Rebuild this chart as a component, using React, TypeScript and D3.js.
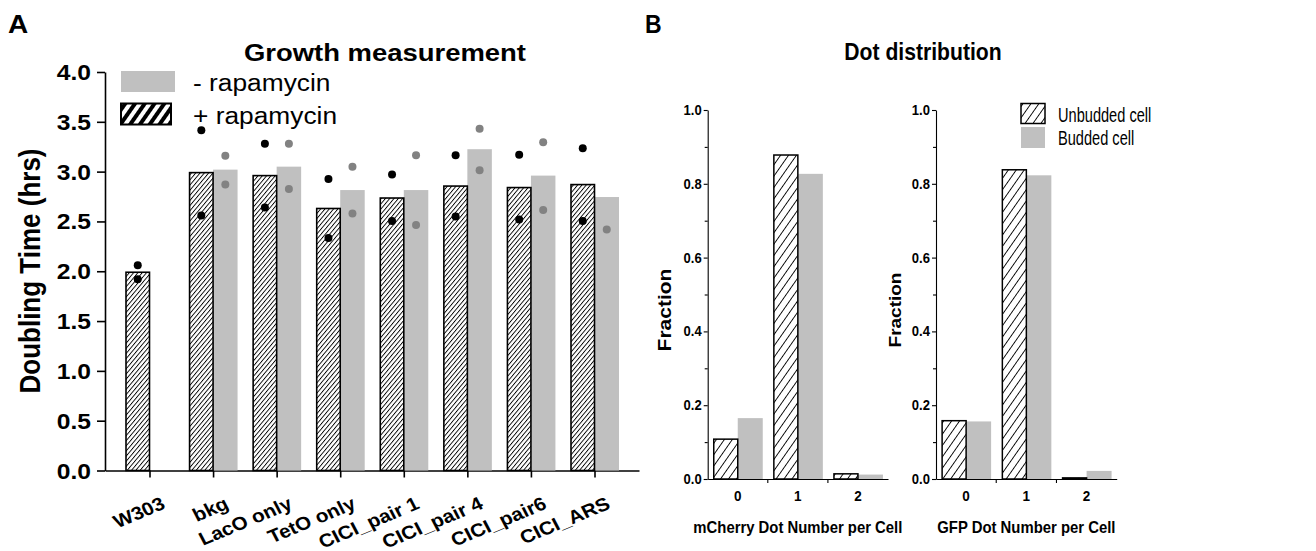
import React, { useEffect, useRef } from "react";
import * as d3 from "d3";

// Panel A: growth measurement
const strains = ["W303", "bkg", "LacO only", "TetO only", "CICI_pair 1", "CICI_pair 4", "CICI_pair6", "CICI_ARS"];
const plusRapa = [1.99, 2.99, 2.96, 2.63, 2.735, 2.855, 2.84, 2.87];
const minusRapa = [null, 3.02, 3.05, 2.815, 2.815, 3.225, 2.96, 2.745];
const plusRapaPoints = [[2.06, 1.92], [3.415, 2.56], [3.28, 2.64], [2.925, 2.335], [2.97, 2.505], [3.165, 2.55], [3.17, 2.52], [3.235, 2.505]];
const minusRapaPoints = [[], [3.16, 2.87], [3.28, 2.825], [3.05, 2.58], [3.165, 2.465], [3.43, 3.015], [3.295, 2.615], [2.42]];
const growthTicks = [0, 0.5, 1, 1.5, 2, 2.5, 3, 3.5, 4];

// Panel B: dot distribution
const dotNumbers = ["0", "1", "2"];
const mCherryUnbudded = [0.108, 0.878, 0.014];
const mCherryBudded = [0.165, 0.827, 0.012];
const gfpUnbudded = [0.158, 0.838, 0.003];
const gfpBudded = [0.156, 0.823, 0.022];
const fractionTicks = [0, 0.2, 0.4, 0.6, 0.8, 1.0];
const fractionMinor = [0.1, 0.3, 0.5, 0.7, 0.9];

const FONT = "'Liberation Sans', Arial, Helvetica, sans-serif";

const App = () => {
  const ref = useRef<SVGSVGElement>(null);

  useEffect(() => {
    document.body.style.margin = "0";
    const svg = d3.select(ref.current);
    svg.selectAll("*").remove();
    const defs = svg.append("defs");

    // diagonal hatch pattern
    const hatch = (id: string, spacing: number, angle: number, lw: number) => {
      const p = defs.append("pattern")
        .attr("id", id)
        .attr("patternUnits", "userSpaceOnUse")
        .attr("width", spacing)
        .attr("height", spacing)
        .attr("patternTransform", `rotate(${angle})`);
      p.append("rect").attr("width", spacing).attr("height", spacing).attr("fill", "#fff");
      p.append("rect").attr("width", lw).attr("height", spacing).attr("fill", "#000");
    };
    hatch("hatchA", 3.3, 40, 0.9);
    hatch("hatchLegA", 8, 35, 4);
    hatch("hatchB", 6.5, 35, 0.9);

    const txt = (g: any, s: string, x: number, y: number, o: any) =>
      g.append("text")
        .attr("transform", `translate(${x},${y}) scale(${o.sx ?? 1},1) rotate(${o.rot ?? 0})`)
        .attr("text-anchor", o.anchor ?? "start")
        .attr("font-size", o.size)
        .attr("font-weight", o.weight ?? "normal")
        .attr("font-family", FONT)
        .attr("fill", "#000")
        .text(s);

    // ---------------- Panel A ----------------
    const gA = svg.append("g");
    const sxA = 1.12;
    const yA = d3.scaleLinear().domain([0, 4]).range([470.5, 72]);
    const xA = d3.scalePoint().domain(strains).range([105, 639]).padding(0.7);
    const barW = 23.5;

    txt(gA, "A", 8, 33, { size: 25, weight: "bold", sx: sxA });
    txt(gA, "Growth measurement", 385, 61, { size: 24.5, weight: "bold", sx: sxA, anchor: "middle" });
    txt(gA, "Doubling Time (hrs)", 40, 271, { size: 26, weight: "bold", sx: sxA, rot: -90, anchor: "middle" });

    const axL = gA.append("g").attr("transform", "translate(105,0)")
      .call(d3.axisLeft(yA).tickValues(growthTicks).tickSize(8).tickSizeOuter(0).tickFormat(() => ""));
    const axB = gA.append("g").attr("transform", `translate(0,${yA(0)})`)
      .call(d3.axisBottom(xA).tickSize(7).tickSizeOuter(0).tickFormat(() => ""));
    [axL, axB].forEach((a) => {
      a.selectAll("path,line").attr("stroke", "#000").attr("stroke-width", 1.6);
    });

    growthTicks.forEach((t) => {
      txt(gA, t.toFixed(1), 91, yA(t) + 8, { size: 22, weight: "bold", sx: sxA, anchor: "end" });
    });

    strains.forEach((s) => {
      txt(gA, s, (xA(s) as number) + 17, 508, { size: 18.5, weight: "bold", sx: sxA, rot: -25, anchor: "end" });
    });

    // bars
    strains.forEach((s, i) => {
      const cx = xA(s) as number;
      const mv = minusRapa[i];
      if (mv != null) {
        gA.append("rect")
          .attr("x", cx).attr("y", yA(mv))
          .attr("width", barW + 1).attr("height", yA(0) - yA(mv))
          .attr("fill", "#c0c0c0");
      }
      gA.append("rect")
        .attr("x", cx - barW).attr("y", yA(plusRapa[i]))
        .attr("width", barW).attr("height", yA(0) - yA(plusRapa[i]))
        .attr("fill", "url(#hatchA)")
        .attr("stroke", "#000").attr("stroke-width", 1.6);
    });

    // replicate dots
    strains.forEach((s, i) => {
      const cx = xA(s) as number;
      plusRapaPoints[i].forEach((v) => {
        gA.append("circle").attr("cx", cx - barW / 2).attr("cy", yA(v)).attr("r", 4).attr("fill", "#000");
      });
      minusRapaPoints[i].forEach((v) => {
        gA.append("circle").attr("cx", cx + barW / 2 + 0.5).attr("cy", yA(v)).attr("r", 4).attr("fill", "#828282");
      });
    });

    // legend A
    gA.append("rect").attr("x", 121).attr("y", 71).attr("width", 54).attr("height", 21).attr("fill", "#c0c0c0");
    gA.append("rect").attr("x", 121).attr("y", 103.5).attr("width", 50).attr("height", 21)
      .attr("fill", "url(#hatchLegA)").attr("stroke", "#000").attr("stroke-width", 2);
    txt(gA, "- rapamycin", 193, 91, { size: 23.5, sx: sxA });
    txt(gA, "+ rapamycin", 193, 123.5, { size: 23.5, sx: sxA });

    // ---------------- Panel B ----------------
    const gB = svg.append("g");
    const sxB = 0.9;
    const yB = d3.scaleLinear().domain([0, 1]).range([479, 110]);

    txt(gB, "B", 645, 33, { size: 25, weight: "bold", sx: 0.92 });
    txt(gB, "Dot distribution", 923, 60, { size: 23.5, weight: "bold", sx: sxB, anchor: "middle" });

    const drawDist = (x0: number, x1: number, unb: number[], bud: number[], title: string, fracX: number, fracSize: number) => {
      const g = gB.append("g");
      const xB = d3.scaleBand().domain(dotNumbers).range([x0, x1]);
      const center = (d: string) => (xB(d) as number) + xB.bandwidth() / 2;

      g.append("g").attr("transform", `translate(${x0},0)`)
        .call(d3.axisLeft(yB).tickValues(fractionTicks).tickSize(4).tickSizeOuter(0).tickFormat(() => ""));
      g.append("g").attr("transform", `translate(${x0},0)`)
        .call(d3.axisLeft(yB).tickValues(fractionMinor).tickSize(3).tickFormat(() => ""))
        .select(".domain").remove();
      const xAx = g.append("g").attr("transform", `translate(0,${yB(0)})`)
        .call(d3.axisBottom(xB).tickValues([]).tickSizeOuter(0));
      dotNumbers.slice(1).forEach((d) => {
        xAx.append("line").attr("x1", xB(d) as number).attr("x2", xB(d) as number).attr("y1", 0).attr("y2", 4);
      });
      g.selectAll("path,line").attr("stroke", "#000").attr("stroke-width", 1.1);

      fractionTicks.forEach((t) => {
        txt(g, t.toFixed(1), x0 - 6, yB(t) + 5, { size: 14.5, weight: "bold", sx: sxB, anchor: "end" });
      });
      dotNumbers.forEach((d) => {
        txt(g, d, center(d), 501, { size: 15, weight: "bold", sx: sxB, anchor: "middle" });
      });
      txt(g, title, (x0 + x1) / 2, 533, { size: 16, weight: "bold", sx: 0.93, anchor: "middle" });
      txt(g, "Fraction", fracX, 310, { size: fracSize, weight: "bold", sx: 0.87, rot: -90, anchor: "middle" });

      dotNumbers.forEach((d, i) => {
        const c = center(d);
        g.append("rect")
          .attr("x", c).attr("y", yB(bud[i]))
          .attr("width", 25).attr("height", yB(0) - yB(bud[i]))
          .attr("fill", "#c0c0c0");
        g.append("rect")
          .attr("x", c - 24).attr("y", yB(unb[i]))
          .attr("width", 24).attr("height", yB(0) - yB(unb[i]))
          .attr("fill", "url(#hatchB)")
          .attr("stroke", "#000").attr("stroke-width", 1.5);
      });
    };

    drawDist(707.7, 888, mCherryUnbudded, mCherryBudded, "mCherry Dot Number per Cell", 671, 21);
    drawDist(936, 1116.7, gfpUnbudded, gfpBudded, "GFP Dot Number per Cell", 901, 19);

    // legend B
    gB.append("rect").attr("x", 1021).attr("y", 103.5).attr("width", 24).attr("height", 20)
      .attr("fill", "url(#hatchB)").attr("stroke", "#000").attr("stroke-width", 1.5);
    gB.append("rect").attr("x", 1021).attr("y", 127).attr("width", 24).attr("height", 21).attr("fill", "#c0c0c0");
    txt(gB, "Unbudded cell", 1058, 122, { size: 20, sx: 0.73 });
    txt(gB, "Budded cell", 1058, 145, { size: 20, sx: 0.73 });
  }, []);

  return <svg ref={ref} width={1316} height={551} style={{ display: "block", background: "#fff" }} />;
};

export default App;
